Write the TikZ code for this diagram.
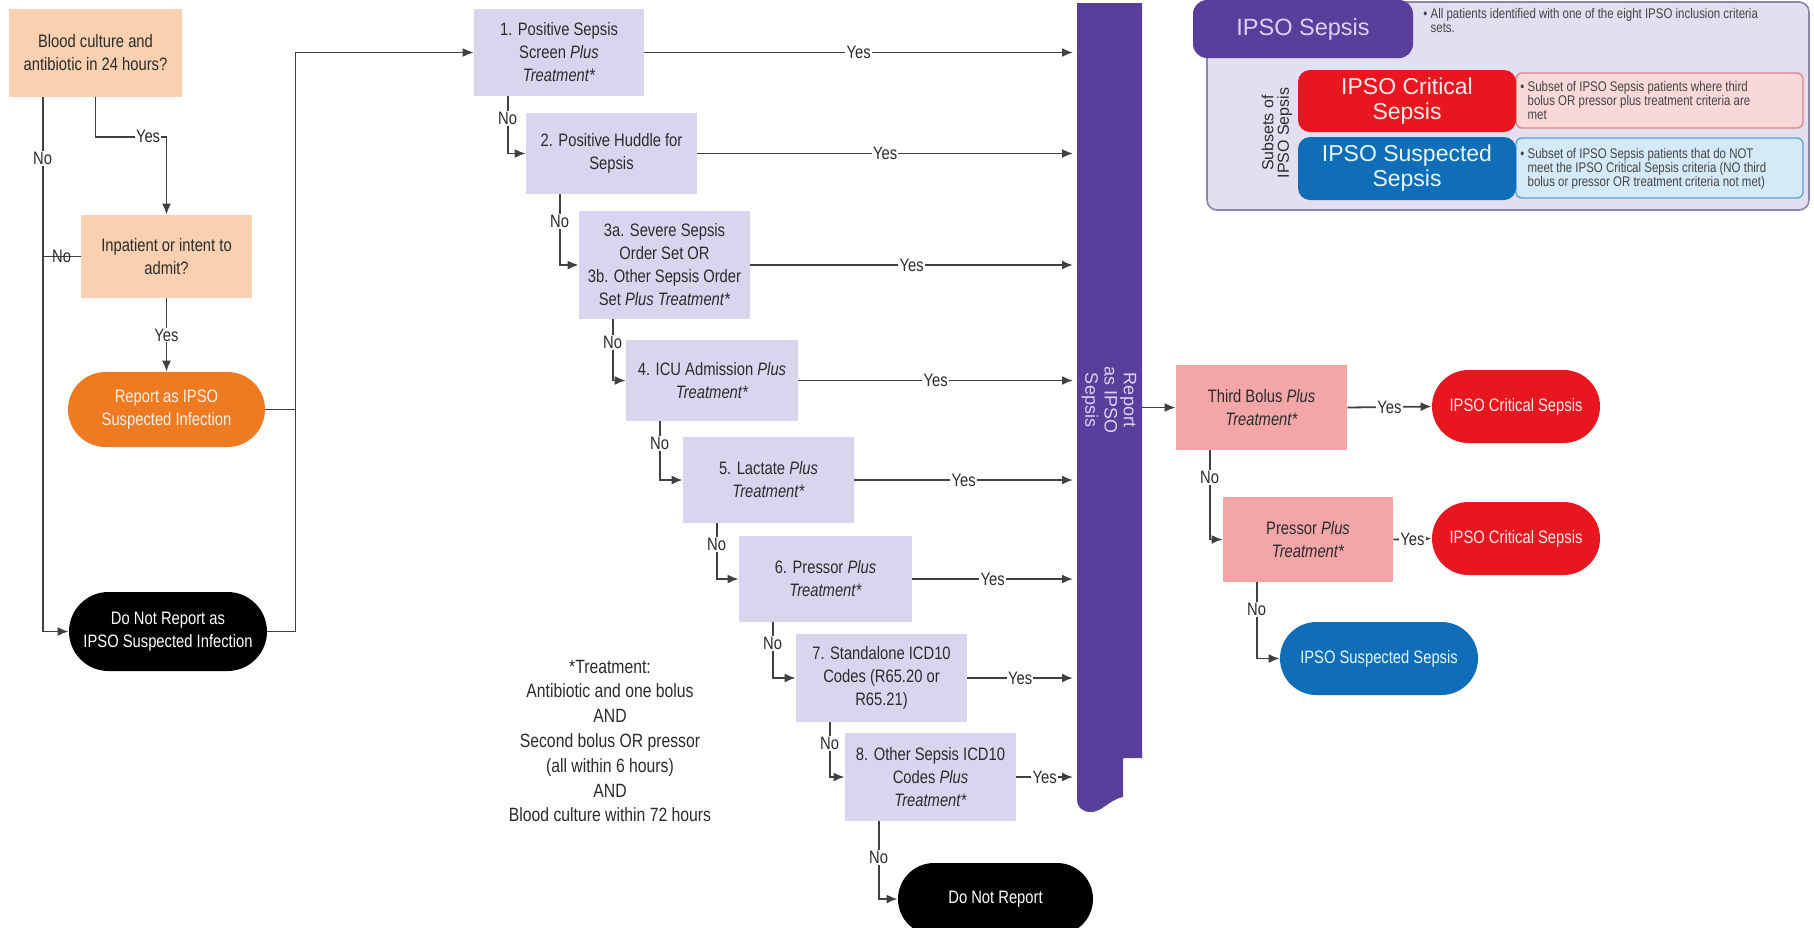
\documentclass[tikz,border=0pt]{standalone}
\usepackage{fontspec}
\setmainfont{Liberation Sans}
\newfontfamily\nar{Liberation Sans}[FakeStretch=0.82]
\usetikzlibrary{calc,arrows.meta,shapes.misc}
\definecolor{peach}{HTML}{F9D0B0}
\definecolor{orangeT}{HTML}{EE7B22}
\definecolor{lav}{HTML}{DAD5EE}
\definecolor{barpurple}{HTML}{5A3E9C}
\definecolor{pinkbox}{HTML}{F3A6A8}
\definecolor{redT}{HTML}{E8161F}
\definecolor{blueT}{HTML}{0F6EB7}
\definecolor{legbg}{HTML}{E4DEF1}
\definecolor{legbd}{HTML}{8C86A6}
\definecolor{pinkdesc}{HTML}{F8D8D8}
\definecolor{pinkbd}{HTML}{D98888}
\definecolor{bluedesc}{HTML}{D5EAF8}
\definecolor{bluebd}{HTML}{5FA3D8}
\definecolor{lavtxt}{HTML}{DCD2F5}
\definecolor{txt}{HTML}{2B2B2B}
\definecolor{desc}{HTML}{444444}
\definecolor{lncol}{HTML}{404040}
\begin{document}
\begin{tikzpicture}[x=0.5pt,y=-0.5pt,
  sz/.style 2 args={minimum width=#1*0.5pt, minimum height=#2*0.5pt},
  base/.style={inner sep=0pt, align=center, font=\nar\fontsize{9}{11.5}\selectfont, text=txt},
  dec/.style={base, rectangle, fill=peach},
  crit/.style={base, rectangle, fill=lav},
  pbox/.style={base, rectangle, fill=pinkbox},
  term/.style={base, rounded rectangle, text=white},
  ln/.style={draw=lncol, line width=0.9pt},
  arr/.style={ln, -{Latex[length=5.5pt,width=4.5pt]}},
  lbl/.style={font=\nar\fontsize{9}{11}\selectfont, fill=white, inner sep=0.6pt, text=txt},
  ltitle/.style={rectangle, rounded corners=6pt, inner sep=0pt, align=center, font=\fontsize{11.5}{12.5}\selectfont},
  ldesc/.style={anchor=west, inner sep=0pt, align=left, text=desc, font=\nar\fontsize{7}{7}\selectfont}
]
\useasboundingbox (0,0) rectangle (1814,927);
\fill[white] (0,0) rectangle (1814,927);

% ---------- legend ----------
\node[rectangle, rounded corners=5pt, fill=legbg, draw=legbd, line width=0.8pt, sz={602}{208}] (LO) at (1508,106) {};
\node[ltitle, fill=barpurple, text=lavtxt, sz={220}{58}, rounded corners=7pt, font=\fontsize{11.75}{13}\selectfont] (LS) at (1303,29) {IPSO Sepsis};
\node[ldesc, anchor=north west] (LSd) at (1423,8) {\textbullet\ All patients identified with one of the eight IPSO inclusion criteria\\\phantom{\textbullet\ }sets.};
\node[rectangle, rounded corners=3pt, fill=pinkdesc, draw=pinkbd, line width=0.7pt, sz={287}{55}] (LPd) at (1659.5,100.5) {};
\node[rectangle, rounded corners=3pt, fill=bluedesc, draw=bluebd, line width=0.7pt, sz={287}{60}] (LBd) at (1659.5,168) {};
\node[ltitle, fill=redT, text=white!92!red, sz={218}{62}] (LC) at (1407,101) {IPSO Critical\\Sepsis};
\node[ltitle, fill=blueT, text=white!90!cyan, sz={218}{63}] (LB) at (1407,168.5) {IPSO Suspected\\Sepsis};
\node[ldesc] (LCt) at (1520,100) {\textbullet\ Subset of IPSO Sepsis patients where third\\\phantom{\textbullet\ }bolus OR pressor plus treatment criteria are\\\phantom{\textbullet\ }met};
\node[ldesc] (LBt) at (1520,169) {\textbullet\ Subset of IPSO Sepsis patients that do NOT\\\phantom{\textbullet\ }meet the IPSO Critical Sepsis criteria (NO third\\\phantom{\textbullet\ }bolus or pressor OR treatment criteria not met)};
\node[rotate=90, align=center, inner sep=0pt, text=txt, font=\fontsize{8}{7.8}\selectfont] (LSub) at (1277,133) {Subsets of\\IPSO Sepsis};

% ---------- left column ----------
\node[dec, sz={173}{88}] (A) at (95.5,53) {Blood culture and\\antibiotic in 24 hours?};
\node[dec, sz={171}{83}] (B) at (166.5,256.5) {Inpatient or intent to\\admit?};
\node[term, fill=orangeT, text=white!90!orange, sz={197}{75}] (R) at (166.5,409.5) {Report as IPSO\\Suspected Infection};
\node[term, fill=black, sz={198}{79}] (D1) at (168,631.5) {Do Not Report as\\IPSO Suspected Infection};
\coordinate (Ax) at ($(A.south west)+(34,0)$);
\coordinate (J) at ($(R.east)+(30,0)$);

% ---------- middle column ----------
\node[crit, sz={170}{87}] (b1) at (559,52.5) {1. Positive Sepsis\\Screen \textit{Plus}\\\textit{Treatment*}};
\node[crit, sz={171}{81}] (b2) at (611.5,153.5) {2. Positive Huddle for\\Sepsis};
\node[crit, sz={171}{108}] (b3) at (664.5,265) {3a. Severe Sepsis\\Order Set OR\\3b. Other Sepsis Order\\Set \textit{Plus Treatment*}};
\node[crit, sz={172}{81}] (b4) at (712,380.5) {4. ICU Admission \textit{Plus}\\\textit{Treatment*}};
\node[crit, sz={171}{86}] (b5) at (768.5,480) {5. Lactate \textit{Plus}\\\textit{Treatment*}};
\node[crit, sz={173}{86}] (b6) at (825.5,579) {6. Pressor \textit{Plus}\\\textit{Treatment*}};
\node[crit, sz={171}{88}] (b7) at (881.5,678) {7. Standalone ICD10\\Codes (R65.20 or\\R65.21)};
\node[crit, sz={171}{88}] (b8) at (930.5,777) {8. Other Sepsis ICD10\\Codes \textit{Plus}\\\textit{Treatment*}};
\node[term, fill=black, sz={195}{72}] (D2) at (995.5,899) {Do Not Report};

\node[align=center, inner sep=0pt, text=txt, font=\nar\fontsize{9.6}{12.4}\selectfont] (TN) at (610,741) {*Treatment:\\Antibiotic and one bolus\\AND\\Second bolus OR pressor\\(all within 6 hours)\\AND\\Blood culture within 72 hours};

% ---------- purple bar ----------
\fill[barpurple] (1077,3) -- (1142,3) -- (1142,758) -- (1123,758) -- (1123,797)
  .. controls (1108,800) and (1102,813) .. (1089,812)
  .. controls (1081,811) and (1077,806) .. (1077,800) -- cycle;
\node[rotate=-90, align=center, inner sep=0pt, text=lavtxt, font=\fontsize{9}{9.6}\selectfont] (BT) at (1109,400) {Report\\as IPSO\\Sepsis};
\coordinate (BL) at (1073,0);
\coordinate (BR) at (1142,0);

% ---------- right column ----------
\node[pbox, sz={171}{85}] (T) at (1261.5,407.5) {Third Bolus \textit{Plus}\\\textit{Treatment*}};
\node[term, fill=redT, text=white!92!red, sz={168}{73}] (C1) at (1516,406.5) {IPSO Critical Sepsis};
\node[pbox, sz={170}{85}] (P) at (1308,539.5) {Pressor \textit{Plus}\\\textit{Treatment*}};
\node[term, fill=redT, text=white!92!red, sz={168}{73}] (C2) at (1516,538.5) {IPSO Critical Sepsis};
\node[term, fill=blueT, text=white!90!cyan, sz={198}{73}] (S) at (1379,658.5) {IPSO Suspected Sepsis};

% ---------- connectors: left ----------
\draw[arr] (A.south) |- node[lbl,pos=0.87] (yA) {Yes} ($(B.north)+(0,-78)$) -- (B.north);
\draw[arr] (Ax) |- node[lbl,pos=0.057] (nA) {No} (D1.west);
\draw[ln] (B.west) -- (B.west -| Ax) node[midway, lbl, fill=none] (nB) {No};
\draw[arr] (B.south) -- (R.north) node[lbl,midway] (yB) {Yes};
\draw[arr] (R.east) -- (J) |- (b1.west);
\draw[ln] (D1.east) -| (J);

% ---------- connectors: middle ----------
\foreach \i in {1,...,8}
  \draw[arr] (b\i.east) -- (b\i.east -| BL) node[lbl,midway] (y\i) {Yes};
\foreach \i/\j in {1/2,2/3,3/4,4/5,5/6,6/7,7/8}
  \draw[arr] ($(b\i.south west)+(34,0)$) |- node[lbl,pos=0.19] (n\i) {No} (b\j.west);
\draw[arr] ($(b8.south west)+(34,0)$) |- node[lbl,pos=0.23] (n8) {No} (D2.west);

% ---------- connectors: right ----------
\draw[arr] (T.west -| BR) -- (T.west);
\draw[arr] (T.east) -- (C1.west) node[lbl,midway] (yT) {Yes};
\draw[arr] ($(T.south west)+(34,0)$) |- node[lbl,pos=0.15] (nT) {No} (P.west);
\draw[arr] (P.east) -- (C2.west) node[lbl,midway] (yP) {Yes};
\draw[arr] ($(P.south west)+(34,0)$) |- node[lbl,pos=0.18] (nP) {No} (S.west);
\end{tikzpicture}
\end{document}
